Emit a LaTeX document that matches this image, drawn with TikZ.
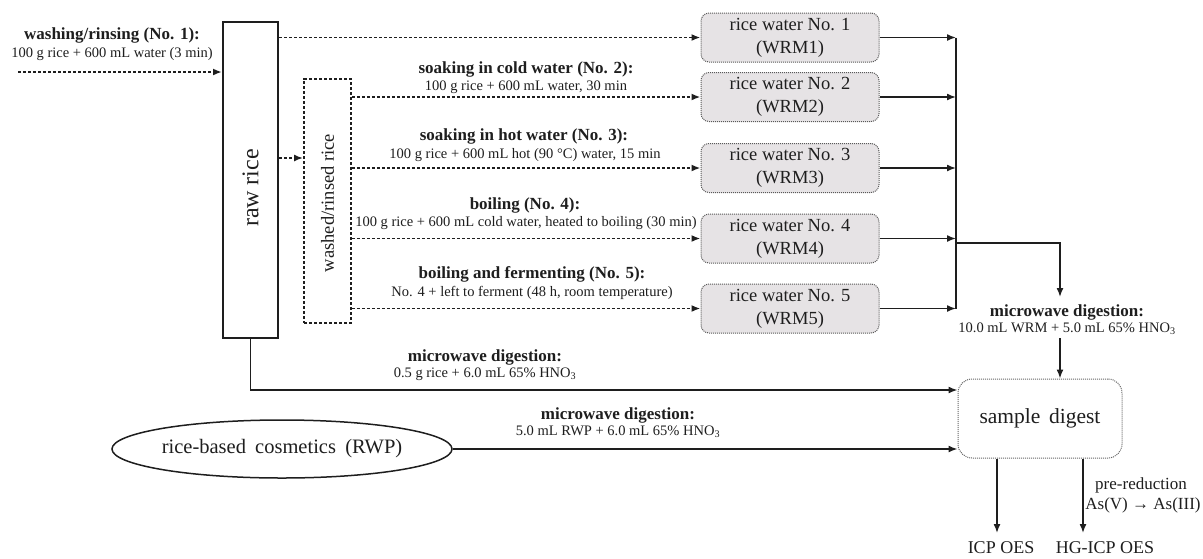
\documentclass[tikz,border=0pt]{standalone}
\usepackage{fontspec}
\setmainfont{Liberation Serif}
\usetikzlibrary{arrows.meta,shapes.geometric}
\definecolor{rwfill}{HTML}{E6E3E5}
\definecolor{ink}{HTML}{1E1E1E}
\tikzset{
  ln/.style={line width=1.5pt, draw=ink},
  arr/.style={ln, -{Latex[length=9pt,width=7pt]}},
  darr/.style={line width=1.9pt, draw=ink, dash pattern=on 3.2pt off 1.8pt, -{Latex[length=9pt,width=7pt]}},
  rwbox/.style={draw=black!65, dash pattern=on 1pt off 1pt, line width=1pt, fill=rwfill, rounded corners=8pt,
    minimum width=178pt, minimum height=49pt, align=center, font=\fontsize{18.5}{23}\selectfont, inner sep=0pt, text=ink},
  bl/.style={font=\fontsize{17}{19}\selectfont\bfseries, inner sep=0pt, text=ink},
  sm/.style={font=\fontsize{14.5}{17}\selectfont, inner sep=0pt, text=ink},
  vt/.style={rotate=90, inner sep=0pt, text=ink},
}
\begin{document}
\begin{tikzpicture}[x=1pt,y=-1pt]
\useasboundingbox (0,0) rectangle (1203,558);

% main boxes
\node[draw=ink, line width=2pt, minimum width=55pt, minimum height=316pt, inner sep=0pt] (raw) at (250.5,180) {};
\node[vt, font=\fontsize{24}{26}\selectfont] (rawt) at (250.5,188) {raw rice};
\node[draw=ink, line width=1.8pt, dash pattern=on 3.2pt off 1.8pt, minimum width=47pt, minimum height=244pt, inner sep=0pt] (wash) at (327.5,201) {};
\node[vt, font=\fontsize{18.5}{20}\selectfont] (washt) at (327.5,203) {washed/rinsed rice};

\node[rwbox] (rw1) at (790,37.5) {rice water No. 1\\(WRM1)};
\node[rwbox] (rw2) at (790,97) {rice water No. 2\\(WRM2)};
\node[rwbox] (rw3) at (790,168) {rice water No. 3\\(WRM3)};
\node[rwbox] (rw4) at (790,238.5) {rice water No. 4\\(WRM4)};
\node[rwbox] (rw5) at (790,308.5) {rice water No. 5\\(WRM5)};

\node[draw=black!60, dash pattern=on 1pt off 1pt, line width=1pt, rounded corners=14pt, minimum width=164pt, minimum height=79pt,
  inner sep=0pt, font=\fontsize{21.5}{24}\selectfont, text=ink] (sd) at (1040,418.5) {sample\hspace{0.15em} digest};

\node[ellipse, draw=ink, line width=1.5pt, minimum width=315pt, minimum height=58pt, inner sep=0pt,
  font=\fontsize{20.5}{23}\selectfont, text=ink] (cos) at (282,449) {rice-based\hspace{0.2em} cosmetics\hspace{0.2em} (RWP)};

% labels
\node[bl] (l1a) at (112,35) {washing/rinsing (No. 1):};
\node[sm] (l1b) at (112,54) {100 g rice + 600 mL water (3 min)};
\node[bl] (l2a) at (526,69) {soaking in cold water (No. 2):};
\node[sm] (l2b) at (526,87) {100 g rice + 600 mL water, 30 min};
\node[bl] (l3a) at (524,136) {soaking in hot water (No. 3):};
\node[sm] (l3b) at (525,155) {100 g rice + 600 mL hot (90 °C) water, 15 min};
\node[bl] (l4a) at (525,205) {boiling (No. 4):};
\node[sm] (l4b) at (526,223) {100 g rice + 600 mL cold water, heated to boiling (30 min)};
\node[bl] (l5a) at (532,274) {boiling and fermenting (No. 5):};
\node[sm] (l5b) at (532,293) {No. 4 + left to ferment (48 h, room temperature)};
\node[bl] (m1a) at (485,357) {microwave digestion:};
\node[sm] (m1b) at (485,374) {0.5 g rice + 6.0 mL 65\% HNO\textsubscript{3}};
\node[bl] (m2a) at (618,415) {microwave digestion:};
\node[sm] (m2b) at (618,432) {5.0 mL RWP + 6.0 mL 65\% HNO\textsubscript{3}};
\node[bl] (m3a) at (1067,312) {microwave digestion:};
\node[sm] (m3b) at (1067,329) {10.0 mL WRM + 5.0 mL 65\% HNO\textsubscript{3}};
\node[inner sep=0pt, font=\fontsize{17}{19}\selectfont, text=ink] (pr1) at (1141,485) {pre-reduction};
\node[inner sep=0pt, font=\fontsize{17}{19}\selectfont, text=ink] (pr2) at (1143,505) {As(V) → As(III)};
\node[inner sep=0pt, font=\fontsize{18}{20}\selectfont, text=ink] (icp) at (1001,548) {ICP OES};
\node[inner sep=0pt, font=\fontsize{18}{20}\selectfont, text=ink] (hg) at (1105,548) {HG-ICP OES};

% helper coordinates
\coordinate (wstart) at (18,72);
\coordinate (rwy) at (0,158);
\coordinate (bus) at (956,0);
\coordinate (br) at (956,243);
\coordinate (brc) at (1060,243);
\coordinate (brend) at (1060,297);
\coordinate (mwout) at (1060,338);
\coordinate (ry) at (0,390);
\coordinate (icpend) at (997,533);
\coordinate (hgend) at (1083,533);

% dashed connectors
\draw[darr] (wstart) -- (wstart -| raw.west);
\draw[darr] (raw.east |- rw1.west) -- (rw1.west);
\draw[darr] (raw.east |- rwy) -- (wash.west |- rwy);
\draw[darr] (wash.east |- rw2.west) -- (rw2.west);
\draw[darr] (wash.east |- rw3.west) -- (rw3.west);
\draw[darr] (wash.east |- rw4.west) -- (rw4.west);
\draw[darr] (wash.east |- rw5.west) -- (rw5.west);

% solid connectors
\draw[ln] (rw1.east -| bus) -- (rw5.east -| bus);
\draw[arr] (rw1.east) -- (rw1.east -| bus);
\draw[arr] (rw2.east) -- (rw2.east -| bus);
\draw[arr] (rw3.east) -- (rw3.east -| bus);
\draw[arr] (rw4.east) -- (rw4.east -| bus);
\draw[arr] (rw5.east) -- (rw5.east -| bus);
\draw[arr] (br) -- (brc) -- (brend);
\draw[arr] (mwout) -- (mwout |- sd.north);
\draw[arr] (raw.south) -- (raw.south |- ry) -- (sd.west |- ry);
\draw[arr] (cos.east) -- (cos.east -| sd.west);
\draw[arr] (icpend |- sd.south) -- (icpend);
\draw[arr] (hgend |- sd.south) -- (hgend);
\end{tikzpicture}
\end{document}
